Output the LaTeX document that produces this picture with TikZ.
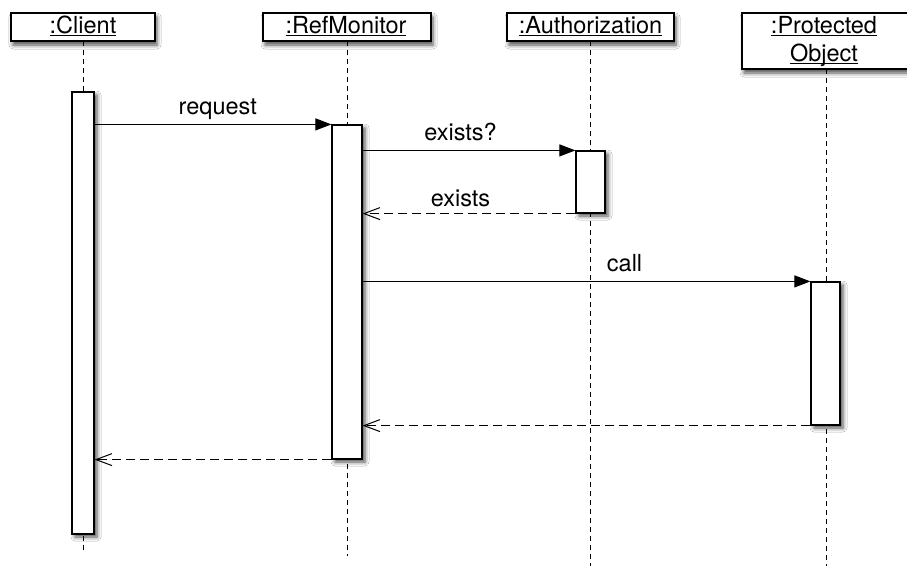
\documentclass[tikz,border=0pt]{standalone}
\usepackage{fontspec}
\setmainfont{TeX Gyre Heros}
\usetikzlibrary{arrows.meta,shadows.blur}

% underlined object name with a fixed underline depth
\newcommand\objname[1]{\setbox0\hbox{#1}\rlap{\rule[-2.6pt]{\wd0}{1pt}}\box0}

\tikzset{
  lbl/.style={font=\fontsize{23.5}{28}\selectfont, inner sep=0pt, anchor=base},
  headbox/.style={draw=black, line width=1.2pt, fill=white, inner sep=0pt,
    minimum height=28pt,
    blur shadow={shadow xshift=2pt, shadow yshift=-4pt, shadow blur radius=4pt, shadow opacity=70}},
  actbox/.style={draw=black, line width=1.2pt, fill=white, inner sep=0pt,
    blur shadow={shadow xshift=3pt, shadow yshift=-3pt, shadow blur radius=4pt, shadow opacity=70}},
  lifeline/.style={line width=1pt, dash pattern=on 5pt off 4pt},
  callmsg/.style={line width=1.1pt, -{Triangle[length=16pt,width=12pt]}},
  retmsg/.style={line width=1.1pt, dash pattern=on 9pt off 5pt,
    -{Straight Barb[length=16pt,width=12pt,line width=1pt]}},
}

\begin{document}
\begin{tikzpicture}[x=1pt,y=-1pt]
\clip (0,0) rectangle (907,565);
\fill[white] (0,0) rectangle (907,565);

% lifelines
\coordinate (lc0) at (83,41);   \coordinate (lc1) at (83,550);
\coordinate (lr0) at (347,41);  \coordinate (lr1) at (347,556);
\coordinate (la0) at (590,41);  \coordinate (la1) at (590,566);
\coordinate (lp0) at (826,69);  \coordinate (lp1) at (826,566);
\draw[lifeline] (lc0) -- (lc1);
\draw[lifeline] (lr0) -- (lr1);
\draw[lifeline] (la0) -- (la1);
\draw[lifeline] (lp0) -- (lp1);

% object heads
\node[headbox, minimum width=144pt] (hC) at (83,27) {};
\node[headbox, minimum width=168pt] (hR) at (347,27) {};
\node[headbox, minimum width=167pt] (hA) at (590.5,27) {};
\node[headbox, minimum width=168pt, minimum height=56pt] (hP) at (826,41) {};

\node[lbl] (tC) at (83,33.5) {\objname{:Client}};
\node[lbl] (tR) at (346,33.5) {\objname{:RefMonitor}};
\node[lbl] (tA) at (590.5,33.5) {\objname{:Authorization}};
\node[lbl] (tP1) at (824,33.5) {\objname{:Protected}};
\node[lbl] (tP2) at (824,61.5) {\objname{Object}};

% activation bars
\node[actbox, minimum width=22pt, minimum height=442pt] (aC) at (83,313) {};
\node[actbox, minimum width=30pt, minimum height=334pt] (aR) at (347,292) {};
\node[actbox, minimum width=29pt, minimum height=62pt] (aA) at (590.5,182) {};
\node[actbox, minimum width=29pt, minimum height=143pt] (aP) at (825.5,353.5) {};

% messages
\coordinate (rq) at (aC.east |- aR.north);
\draw[callmsg] (rq) -- node[lbl, pos=0.52, yshift=10pt] (mReq) {request} (aR.north west);

\coordinate (ex) at (aR.east |- aA.north);
\draw[callmsg] (ex) -- node[lbl, pos=0.46, yshift=9.5pt] (mEx) {exists?} (aA.north west);

\coordinate (exr) at (aR.east |- aA.south);
\draw[retmsg] (aA.south west) -- node[lbl, pos=0.54, yshift=7pt] (mExr) {exists} (exr);

\coordinate (cl) at (aR.east |- aP.north);
\draw[callmsg] (cl) -- node[lbl, pos=0.585, yshift=10pt] (mCall) {call} (aP.north west);

\coordinate (pr) at (aR.east |- aP.south);
\draw[retmsg] (aP.south west) -- (pr);

\coordinate (rr) at (aC.east |- aR.south);
\draw[retmsg] (aR.south west) -- (rr);
\end{tikzpicture}
\end{document}
